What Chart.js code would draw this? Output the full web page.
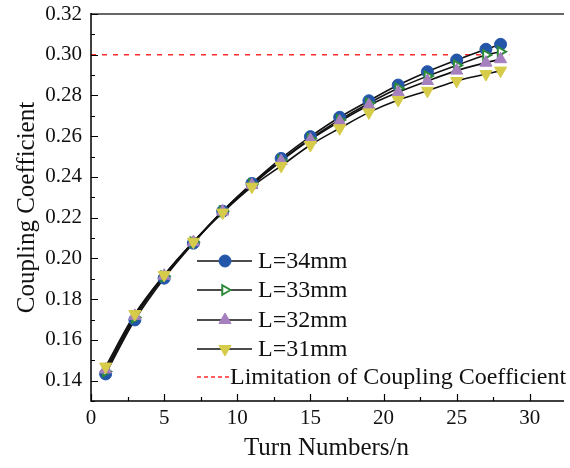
<!DOCTYPE html>
<html><head><meta charset="utf-8">
<script src="https://cdn.jsdelivr.net/npm/chart.js@4.4.1/dist/chart.umd.min.js"></script>
<style>html,body{margin:0;padding:0;background:#fff;}#wrap{width:570px;height:468px;position:relative;}</style>
</head><body><div id="wrap"><canvas id="c" width="570" height="468"></canvas></div>
<script>
const turns = [1,3,5,7,9,11,13,15,17,19,21,23,25,27,28];
const L34 = [0.1433,0.1698,0.1903,0.2075,0.2232,0.2368,0.2491,0.2598,0.2693,0.2774,0.2851,0.2917,0.2974,0.3027,0.3051];
const L33 = [0.1445,0.1710,0.1912,0.2080,0.2232,0.2365,0.2482,0.2588,0.2680,0.2762,0.2835,0.2895,0.2948,0.2999,0.3015];
const L32 = [0.1455,0.1718,0.1915,0.2080,0.2230,0.2360,0.2478,0.2583,0.2672,0.2752,0.2816,0.2871,0.2922,0.2961,0.2978];
const L31 = [0.1469,0.1727,0.1919,0.2082,0.2225,0.2352,0.2454,0.2557,0.2639,0.2717,0.2778,0.2823,0.2871,0.2905,0.2922];
const limitValue = 0.30;
const limitSpan = [0, 28.6];
const seriesNames = ['L=34mm','L=33mm','L=32mm','L=31mm'];
const limitName = 'Limitation of Coupling Coefficient';
const xTicks = [0,5,10,15,20,25,30];
const yTicks = [0.14,0.16,0.18,0.20,0.22,0.24,0.26,0.28,0.30,0.32];

const SERIF = "'Liberation Serif', 'Times New Roman', serif";
Chart.defaults.font.family = SERIF;
const styles = [
  {pointStyle:'circle', rotation:0, bg:'#2356a8', border:'#2356a8', r:6, bw:1},
  {pointStyle:'triangle', rotation:90, bg:'#ffffff', border:'#2e8b3a', r:5.5, bw:2},
  {pointStyle:'triangle', rotation:0, bg:'#a57fbe', border:'#a57fbe', r:7, bw:1},
  {pointStyle:'triangle', rotation:180, bg:'#d6cc4a', border:'#d6cc4a', r:7, bw:1}
];
const allSeries = [L34, L33, L32, L31];
const pts = arr => turns.map((t,i)=>({x:t, y:arr[i]}));

const datasets = [];
allSeries.forEach((arr,i)=>{
  datasets.push({label:seriesNames[i]+' line', data:pts(arr), showLine:true, borderColor:'#111', borderWidth:1.6,
    pointRadius:0, cubicInterpolationMode:'monotone', order:20+i, fill:false});
});
allSeries.forEach((arr,i)=>{
  const s = styles[i];
  datasets.push({label:seriesNames[i], data:pts(arr), showLine:false, pointStyle:s.pointStyle, rotation:s.rotation,
    pointRadius:s.r, pointBackgroundColor:s.bg, pointBorderColor:s.border, pointBorderWidth:s.bw, order:10-i});
});
datasets.push({label:limitName, data:limitSpan.map(x=>({x:x, y:limitValue})), showLine:true, borderColor:'#ff2a2a',
  borderWidth:1.5, borderDash:[5,6], pointRadius:0, order:30});

const frame = {
  id:'frame',
  afterDatasetsDraw(chart){
    const {ctx, chartArea:a, scales:{x, y}} = chart;
    ctx.save();
    ctx.strokeStyle='#666'; ctx.lineWidth=2;
    ctx.beginPath(); ctx.moveTo(a.left, a.top); ctx.lineTo(a.right+2, a.top); ctx.stroke();
    ctx.strokeStyle='#000'; ctx.lineWidth=1.5;
    ctx.beginPath(); ctx.moveTo(a.left, a.top-1); ctx.lineTo(a.left, a.bottom); ctx.lineTo(a.right+2, a.bottom); ctx.stroke();
    ctx.lineWidth=1.2;
    ctx.beginPath();
    for (let k=13; k<=32; k++){
      const v = k/100;
      const py = Math.round(y.getPixelForValue(v))+0.5;
      const major = (k%2)===0;
      ctx.moveTo(a.left, py); ctx.lineTo(a.left+(major?7:4), py);
    }
    for (let k=0; k<=12; k++){
      const v = k*2.5;
      const px = Math.round(x.getPixelForValue(v))+0.5;
      const major = (k%2)===0;
      ctx.moveTo(px, a.bottom); ctx.lineTo(px, a.bottom-(major?7:4));
    }
    ctx.stroke();
    ctx.restore();
  },
  afterDraw(chart){
    const ctx = chart.ctx;
    ctx.save();
    ctx.font = '24px '+SERIF;
    ctx.textBaseline='middle';
    const rows = [261, 290, 320, 349];
    rows.forEach((ry,i)=>{
      const s = styles[i];
      ctx.strokeStyle='#111'; ctx.lineWidth=1.6;
      ctx.beginPath(); ctx.moveTo(197, ry); ctx.lineTo(252, ry); ctx.stroke();
      ctx.fillStyle=s.bg; ctx.strokeStyle=s.border; ctx.lineWidth=s.bw;
      Chart.helpers.drawPoint(ctx, {pointStyle:s.pointStyle, rotation:s.rotation, radius:s.r, borderWidth:s.bw}, 225, ry);
      ctx.fillStyle='#111';
      ctx.fillText(seriesNames[i], 258, ry+1);
    });
    ctx.strokeStyle='#ff2a2a'; ctx.lineWidth=1.3; ctx.setLineDash([4,3]);
    ctx.beginPath(); ctx.moveTo(197, 377); ctx.lineTo(229, 377); ctx.stroke();
    ctx.setLineDash([]);
    ctx.fillStyle='#111';
    ctx.fillText(limitName, 230, 378);
    ctx.restore();
  }
};

new Chart(document.getElementById('c'), {
  type:'scatter',
  data:{datasets},
  options:{
    responsive:false, animation:false, devicePixelRatio:1,
    layout:{padding:{top:14, right:0, left:0, bottom:0}},
    plugins:{legend:{display:false}, tooltip:{enabled:false}},
    scales:{
      x:{type:'linear', min:0, max:32.2,
        afterFit(s){ s.height = 67; },
        afterBuildTicks(s){ s.ticks = xTicks.map(v=>({value:v})); },
        grid:{display:false, drawTicks:false}, border:{display:false},
        ticks:{padding:5, color:'#111', font:{family:SERIF, size:21}, maxRotation:0, callback:v=>String(v)},
        title:{display:true, text:'Turn Numbers/n', color:'#111', font:{family:SERIF, size:25}, padding:{top:0,bottom:5}}
      },
      y:{type:'linear', min:0.13, max:0.32,
        afterFit(s){ s.width = 91; },
        afterBuildTicks(s){ s.ticks = yTicks.map(v=>({value:v})); },
        grid:{display:false, drawTicks:false}, border:{display:false},
        ticks:{padding:9, color:'#111', font:{family:SERIF, size:21, lineHeight:0.2}, callback:v=>Number(v).toFixed(2)},
        title:{display:true, text:'Coupling Coefficient', color:'#111', font:{family:SERIF, size:25}, padding:{top:12,bottom:0}}
      }
    }
  },
  plugins:[frame]
});
</script></body></html>
